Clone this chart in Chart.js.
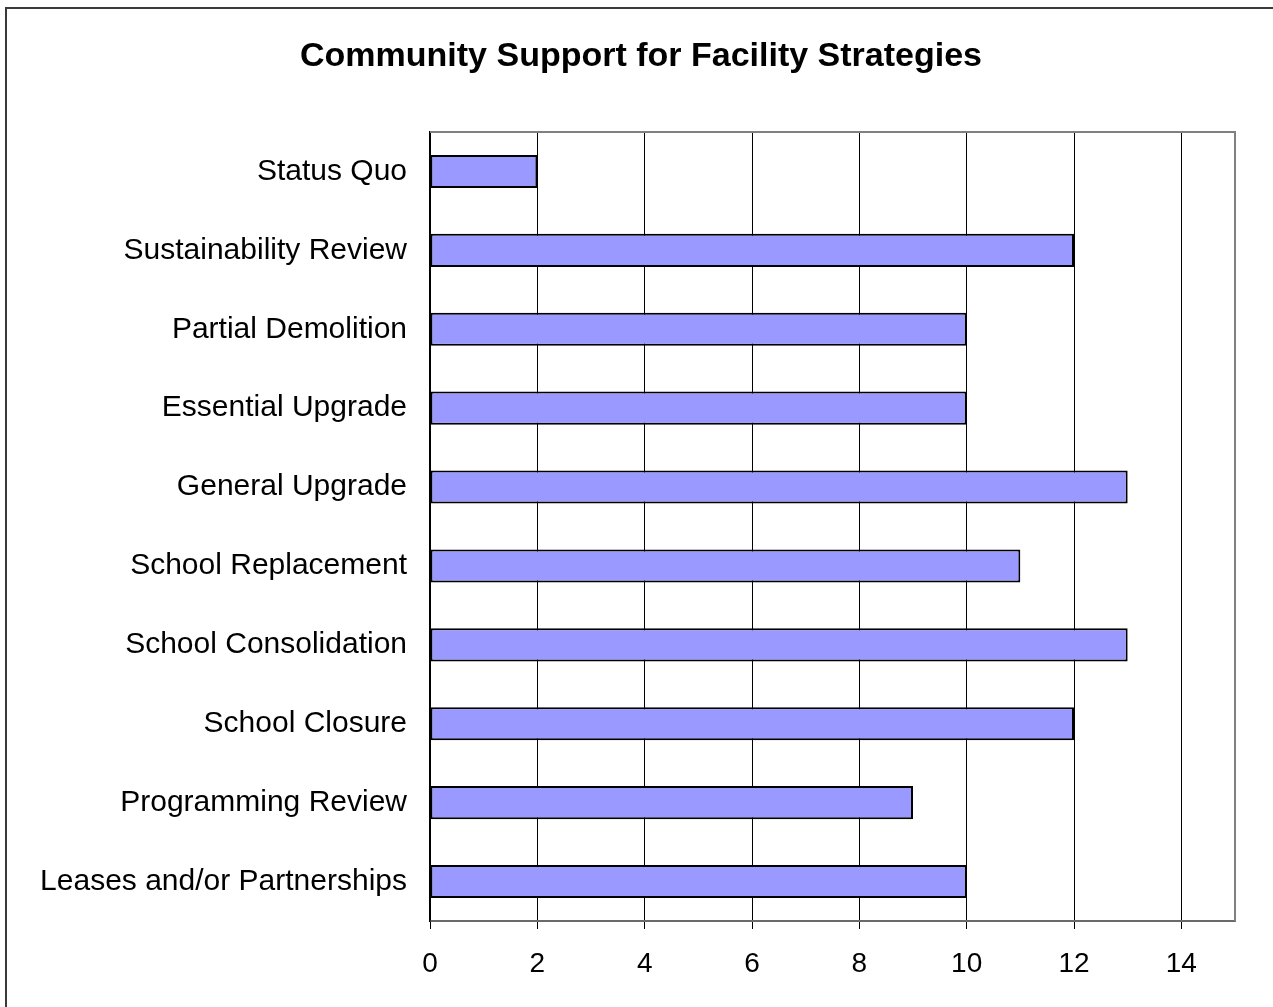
<!DOCTYPE html>
<html>
<head>
<meta charset="utf-8">
<title>Community Support for Facility Strategies</title>
<script src="https://cdn.jsdelivr.net/npm/chart.js@4"></script>
<style>
  html, body { margin: 0; padding: 0; background: #fff; overflow: hidden; }
  .frame {
    position: absolute; left: 5px; top: 7px; width: 1400px; height: 1100px;
    border-left: 2px solid #3a3a3a; border-top: 2px solid #3a3a3a;
  }
  #strategy-chart { position: absolute; left: 0; top: 0; }
</style>
</head>
<body>
<div class="frame"></div>
<canvas id="strategy-chart" width="1273" height="1007"></canvas>
<script>
const strategies = [
  'Status Quo',
  'Sustainability Review',
  'Partial Demolition',
  'Essential Upgrade',
  'General Upgrade',
  'School Replacement',
  'School Consolidation',
  'School Closure',
  'Programming Review',
  'Leases and/or Partnerships'
];
const supportCounts = [2, 12, 10, 10, 13, 11, 13, 12, 9, 10];
const xTicks = [0, 2, 4, 6, 8, 10, 12, 14];
const xMax = 15;

const chartTitle = 'Community Support for Facility Strategies';
const FONT = '"Liberation Sans", Arial, sans-serif';

// gray outline on top and right of the plot area, plus the heading
const plotFrame = {
  id: 'plotFrame',
  afterDraw(chart) {
    const { ctx, chartArea: a } = chart;
    ctx.save();
    ctx.strokeStyle = '#808080';
    ctx.lineWidth = 2;
    ctx.beginPath();
    ctx.moveTo(a.left, a.top);
    ctx.lineTo(a.right, a.top);
    ctx.lineTo(a.right, a.bottom);
    ctx.stroke();

    ctx.fillStyle = '#000';
    ctx.font = 'bold 34px ' + FONT;
    ctx.textAlign = 'center';
    ctx.textBaseline = 'middle';
    ctx.fillText(chartTitle, 641, 57);
    ctx.restore();
  }
};

const ctx = document.getElementById('strategy-chart').getContext('2d');

new Chart(ctx, {
  type: 'bar',
  data: {
    labels: strategies,
    datasets: [{
      data: supportCounts,
      backgroundColor: '#9999ff',
      borderColor: '#000000',
      borderWidth: 2,
      borderSkipped: false,
      categoryPercentage: 1,
      barPercentage: 0.42
    }]
  },
  options: {
    indexAxis: 'y',
    responsive: false,
    animation: false,
    layout: { padding: { left: 0, right: 38, top: 132, bottom: 0 } },
    plugins: {
      legend: { display: false },
      tooltip: { enabled: false },
      title: { display: false }
    },
    scales: {
      x: {
        min: 0,
        max: xMax,
        afterFit(scale) { scale.height = 86; },
        afterBuildTicks(scale) {
          scale.ticks = xTicks.map(v => ({ value: v }));
        },
        grid: {
          color: '#000',
          lineWidth: 1,
          tickLength: 8,
          tickColor: '#000'
        },
        border: { color: '#6a6a6a', width: 2 },
        ticks: {
          color: '#000',
          padding: 18,
          maxRotation: 0,
          font: { family: FONT, size: 28 }
        }
      },
      y: {
        afterFit(scale) { scale.width = 430; },
        grid: { display: false, drawTicks: false },
        border: { display: true, color: '#000', width: 1.5 },
        ticks: {
          color: '#000',
          padding: 23,
          autoSkip: false,
          font: { family: FONT, size: 30 }
        }
      }
    }
  },
  plugins: [plotFrame]
});
</script>
</body>
</html>
